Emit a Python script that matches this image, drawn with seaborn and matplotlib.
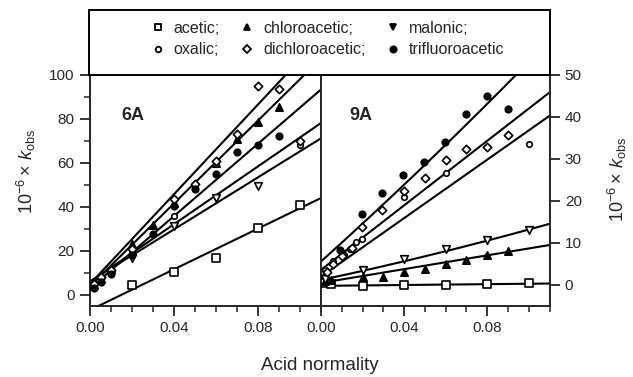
import numpy as np
import matplotlib
matplotlib.use("Agg")
import matplotlib.pyplot as plt
from matplotlib.lines import Line2D
from matplotlib.patches import Rectangle
import seaborn as sns

# ---- data ----
acids = ["acetic", "chloroacetic", "malonic", "oxalic", "dichloroacetic", "trifluoroacetic"]
legend_labels = ["acetic;", "chloroacetic;", "malonic;", "oxalic;", "dichloroacetic;", "trifluoroacetic"]

# panel 6A (left axis, 10^-6 k_obs)
acetic_x6 = [0.02, 0.04, 0.06, 0.08, 0.10]
acetic_y6 = [4.4, 10.5, 17.0, 30.6, 40.9]
chloro_x6 = [0.002, 0.005, 0.01, 0.02, 0.03, 0.04, 0.06, 0.07, 0.08, 0.09]
chloro_y6 = [4.5, 7.5, 12.0, 23.0, 32.0, 42.0, 60.0, 71.0, 78.6, 85.6]
malonic_x6 = [0.002, 0.005, 0.01, 0.02, 0.04, 0.06, 0.08]
malonic_y6 = [4.0, 6.5, 10.0, 17.0, 31.4, 44.3, 49.5]
oxalic_x6 = [0.002, 0.005, 0.01, 0.02, 0.04, 0.06, 0.10]
oxalic_y6 = [3.5, 6.0, 10.5, 19.0, 36.0, 59.5, 68.0]
dichloro_x6 = [0.002, 0.005, 0.01, 0.02, 0.04, 0.05, 0.06, 0.07, 0.08, 0.09, 0.10]
dichloro_y6 = [5.0, 8.0, 11.5, 21.0, 43.5, 50.3, 61.0, 73.4, 95.0, 93.5, 70.0]
trifluoro_x6 = [0.002, 0.005, 0.01, 0.02, 0.03, 0.04, 0.05, 0.06, 0.07, 0.08, 0.09]
trifluoro_y6 = [3.0, 6.0, 9.5, 18.0, 27.6, 40.5, 48.0, 54.9, 65.0, 68.0, 72.3]

# panel 9A (right axis)
acetic_x9 = [0.002, 0.005, 0.02, 0.04, 0.06, 0.08, 0.10]
acetic_y9 = [0.4, 0.3, -0.3, 0.0, 0.0, 0.2, 0.4]
chloro_x9 = [0.002, 0.005, 0.02, 0.03, 0.04, 0.05, 0.06, 0.07, 0.08, 0.09]
chloro_y9 = [1.0, 1.2, 2.0, 1.9, 3.2, 3.7, 4.9, 6.0, 7.2, 8.0]
malonic_x9 = [0.002, 0.02, 0.04, 0.06, 0.08, 0.10]
malonic_y9 = [1.5, 3.5, 6.1, 8.6, 10.7, 13.1]
oxalic_x9 = [0.002, 0.006, 0.011, 0.014, 0.017, 0.0195, 0.04, 0.06, 0.10]
oxalic_y9 = [3.6, 5.6, 7.2, 8.5, 10.3, 10.9, 21.0, 26.7, 33.6]
dichloro_x9 = [0.003, 0.006, 0.01, 0.015, 0.0195, 0.0295, 0.04, 0.05, 0.06, 0.07, 0.08, 0.09]
dichloro_y9 = [3.2, 5.0, 7.0, 8.8, 13.9, 17.9, 22.5, 25.5, 29.8, 32.4, 32.9, 35.6]
trifluoro_x9 = [0.009, 0.0195, 0.0296, 0.0395, 0.0496, 0.0595, 0.07, 0.08, 0.09]
trifluoro_y9 = [8.4, 16.8, 22.0, 26.1, 29.2, 34.0, 40.6, 45.1, 41.8]

# fitted curves: c0 + c1*x + c2*x^2
fit6 = {"acetic": (-6.85, 463, 0), "chloroacetic": (4.0, 941, 0), "malonic": (5.9, 657, 0),
        "oxalic": (6.2, 591, 0), "dichloroacetic": (5.0, 1020, 0), "trifluoroacetic": (3.0, 822, 0)}
fit9 = {"acetic": (-0.2, 5, 0), "chloroacetic": (0.5, 82, 0), "malonic": (1.2, 105, 150),
        "oxalic": (2.0, 348, 0), "dichloroacetic": (3.6, 384, 0), "trifluoroacetic": (5.6, 445, 300)}

pts6 = {"acetic": (acetic_x6, acetic_y6), "chloroacetic": (chloro_x6, chloro_y6),
        "malonic": (malonic_x6, malonic_y6), "oxalic": (oxalic_x6, oxalic_y6),
        "dichloroacetic": (dichloro_x6, dichloro_y6), "trifluoroacetic": (trifluoro_x6, trifluoro_y6)}
pts9 = {"acetic": (acetic_x9, acetic_y9), "chloroacetic": (chloro_x9, chloro_y9),
        "malonic": (malonic_x9, malonic_y9), "oxalic": (oxalic_x9, oxalic_y9),
        "dichloroacetic": (dichloro_x9, dichloro_y9), "trifluoroacetic": (trifluoro_x9, trifluoro_y9)}

# marker style per acid: (marker, filled, size)
style = {"acetic": ("s", False, 26), "chloroacetic": ("^", True, 28), "malonic": ("v", False, 30),
         "oxalic": ("o", False, 16), "dichloroacetic": ("D", False, 18), "trifluoroacetic": ("o", True, 22)}

sns.set_style("ticks")
plt.rcParams["font.family"] = ["Liberation Sans", "DejaVu Sans"]
plt.rcParams["mathtext.fontset"] = "custom"
plt.rcParams["mathtext.rm"] = "Liberation Sans"
plt.rcParams["mathtext.it"] = "Liberation Sans:italic"
plt.rcParams["axes.linewidth"] = 1.4

W, H = 633, 377
fig = plt.figure(figsize=(W / 100, H / 100), dpi=100)
ax6 = fig.add_axes([90 / W, 1 - 306 / H, 231 / W, 231 / H])
ax9 = fig.add_axes([321 / W, 1 - 306 / H, 228.5 / W, 231 / H])

xs = np.linspace(0, 0.115, 200)


def draw_panel(ax, pts, fits):
    for a in acids:
        c0, c1, c2 = fits[a]
        ax.plot(xs, c0 + c1 * xs + c2 * xs ** 2, color="black", lw=1.5, zorder=2)
    for a in acids:
        x, y = pts[a]
        m, filled, s = style[a]
        sns.scatterplot(x=x, y=y, ax=ax, marker=m, s=s, color="black",
                        facecolor="black" if filled else "white",
                        edgecolor="black", linewidth=1.2, zorder=3)
    ax.set_xlim(0, 0.11)
    ax.set_xticks([0.0, 0.04, 0.08])
    ax.set_xticklabels(["0.00", "0.04", "0.08"])
    ax.set_xticks(np.arange(0, 0.111, 0.01), minor=True)
    ax.tick_params(axis="both", which="major", direction="out", length=7, width=1.3,
                   labelsize=11, pad=4)
    ax.tick_params(axis="both", which="minor", direction="out", length=4, width=1.1)
    ax.set_xlabel("")
    ax.set_ylabel("")
    for sp in ax.spines.values():
        sp.set_visible(True)
        sp.set_linewidth(1.4)


draw_panel(ax6, pts6, fit6)
ax6.set_ylim(-5, 100)
ax6.set_yticks([0, 20, 40, 60, 80, 100])
ax6.set_yticks([10, 30, 50, 70, 90], minor=True)
ax6.text(0.0204, 81.5, "6A", fontsize=13, fontweight="bold", ha="center", va="center")

draw_panel(ax9, pts9, fit9)
ax9.set_ylim(-5, 50)
ax9.set_yticks([0, 10, 20, 30, 40, 50])
ax9.yaxis.tick_right()
ax9.tick_params(axis="y", which="both", left=False, right=True)
ax9.text(0.0194, 40.3, "9A", fontsize=13, fontweight="bold", ha="center", va="center")

ylab = r"$10^{-6}\times\,k_{\mathrm{obs}}$"
fig.text(26 / W, 1 - 172 / H, ylab, rotation=90, fontsize=13, ha="center", va="center")
fig.text(617 / W, 1 - 180 / H, ylab, rotation=90, fontsize=13, ha="center", va="center")
fig.text(319.5 / W, 1 - 366 / H, "Acid normality", fontsize=13.5, ha="center", va="center")

# legend box above the panels
fig.patches.append(Rectangle((89 / W, 1 - 75 / H), 461 / W, 65 / H, fill=False,
                             lw=1.4, edgecolor="black", transform=fig.transFigure))
handles = []
for a in acids:
    m, filled, s = style[a]
    handles.append(Line2D([], [], ls="", marker=m, markersize=4.5 if a != "oxalic" else 4,
                          markerfacecolor="black" if (filled or a in ("chloroacetic", "malonic")) else "white",
                          markeredgecolor="black", markeredgewidth=1.3))
order = [0, 3, 1, 4, 2, 5]
fig.legend([handles[i] for i in order], [legend_labels[i] for i in order], ncol=3,
           loc="center", bbox_to_anchor=(327 / W, 1 - 39 / H), frameon=False,
           fontsize=11.5, handlelength=1.0, handletextpad=0.5, columnspacing=1.2,
           labelspacing=0.4, borderpad=0.2)

fig.savefig("out.png", dpi=100)
